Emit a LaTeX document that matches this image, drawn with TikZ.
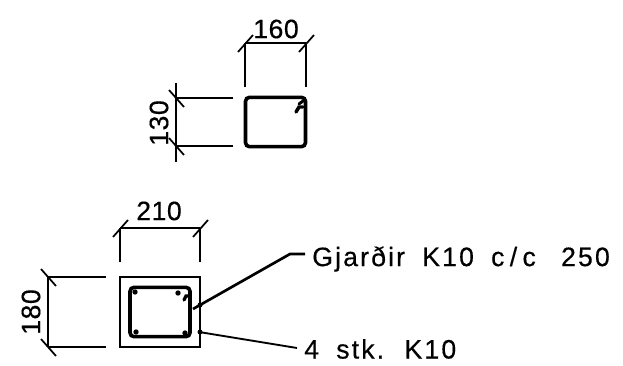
\documentclass[tikz,border=0pt]{standalone}
\usepackage{fontspec}
\setmainfont[LetterSpace=2,FakeBold=0.4]{Liberation Sans}
\newfontfamily\labelfont[LetterSpace=8,WordSpace=1.8,FakeBold=0.4]{Liberation Sans}
\usetikzlibrary{positioning,calc}

\begin{document}
\begin{tikzpicture}[
        x=0.75pt, y=-0.75pt,
        stirrup/.style={rectangle, draw=black, line width=2.7pt, rounded corners=3pt, inner sep=0pt},
        column/.style={rectangle, draw=black, line width=1.2pt, inner sep=0pt},
        dimline/.style={draw=black, line width=1pt},
        dimtick/.style={draw=black, line width=1.3pt},
        leader/.style={draw=black, line width=2pt},
        dimtext/.style={font=\fontsize{20}{20}\selectfont, inner sep=0pt},
        labeltext/.style={font=\labelfont\fontsize{20}{20}\selectfont, inner sep=0pt},
        rebar/.style={circle, fill=black, minimum size=4pt, inner sep=0pt}
    ]
    \useasboundingbox (0,0) rectangle (623,366);

    % upper section
    \node[stirrup, minimum width=45pt, minimum height=37pt] (upper) at (275.5,122) {};
    \coordinate (u160a) at (245,43);
    \coordinate (u160b) at (306,43);
    \coordinate (u130a) at (176,98);
    \coordinate (u130b) at (176,146);
    \draw[dimline] (u160a) -- (u160b);
    \draw[dimline] (u160a) -- (245,87);
    \draw[dimline] (u160b) -- (306,87);
    \draw[dimline] (176,83) -- (176,162);
    \draw[dimline] (u130a) -- (233,98);
    \draw[dimline] (u130b) -- (233,146);
    \draw[line width=2.2pt, line cap=round] (299,104) -- (303,101);
    \draw[line width=2.6pt, line cap=round] (296,112) -- (299,107) -- (303,107);
    \node[dimtext] (t160) at (276,29) {160};
    \node[dimtext, rotate=90] (t130) at (159,123) {130};

    % lower section
    \node[column, minimum width=60pt, minimum height=52.5pt] (lower) at (160,312) {};
    \node[stirrup, minimum width=45pt, minimum height=37pt] (inner) at (160,312) {};
    \coordinate (l210a) at (120,228);
    \coordinate (l210b) at (200,228);
    \coordinate (l180a) at (48,277);
    \coordinate (l180b) at (48,347);
    \draw[dimline] (l210a) -- (l210b);
    \draw[dimline] (l210a) -- (120,262);
    \draw[dimline] (l210b) -- (200,262);
    \draw[dimline] (l180a) -- (l180b);
    \draw[dimline] (l180a) -- (106,277);
    \draw[dimline] (l180b) -- (106,347);
    \node[dimtext] (t210) at (159,211) {210};
    \node[dimtext, rotate=90] (t180) at (31,312) {180};

    \node[rebar] (bar1) at (135,292) {};
    \node[rebar] (bar2) at (136,332) {};
    \node[rebar] (bar3) at (185,333) {};
    \node[rebar] (bar4) at (178,293) {};
    \draw[line width=2.4pt, line cap=round] (184,300) -- (186,296) -- (189,296);

    % dimension ticks
    \foreach \c in {u160a,u160b,l210a,l210b}
        \draw[dimtick] ($(\c)+(-7,9)$) -- ($(\c)+(8,-8)$);
    \foreach \c in {u130a,u130b,l180a,l180b}
        \draw[dimtick] ($(\c)+(-7,-8)$) -- ($(\c)+(8,9)$);

    % leaders
    \node[labeltext, anchor=west] (label1) at (312,259) {Gjarðir K10 c\kern4pt/\kern4pt c \kern6pt 250};
    \node[labeltext, anchor=west] (label2) at (304,349) {4 stk. K10};
    \coordinate (knee) at (290,254);
    \coordinate (end1) at (305,254);
    \coordinate (end2) at (297,348);
    \draw[leader] (193,309) -- (knee) -- (end1);
    \draw[leader, line width=1.4pt] (199,332) -- (end2);
    \fill (200,305) circle (2.5);
    \fill (200,332) circle (2.5);

\end{tikzpicture}
\end{document}
